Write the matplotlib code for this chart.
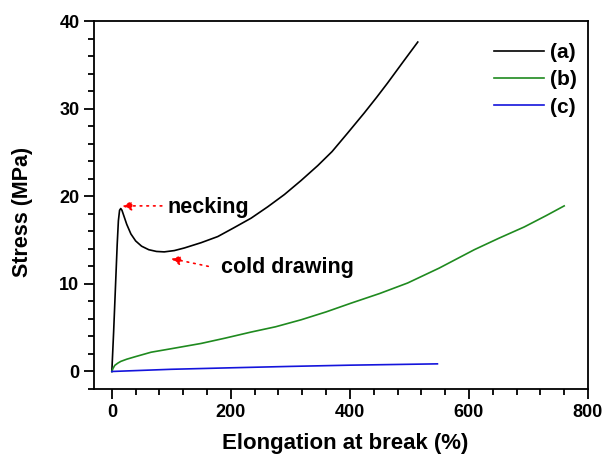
import matplotlib
matplotlib.use("Agg")
import matplotlib.pyplot as plt
from matplotlib.ticker import MultipleLocator

plt.rcParams['font.family'] = ['Liberation Sans', 'DejaVu Sans']
plt.rcParams['font.weight'] = 'bold'

# stress-strain curves, elongation (%) vs stress (MPa)
strain_a = [0, 3, 6, 9, 11, 13, 15, 17, 20, 25, 32, 40, 50, 62, 75, 88, 105, 122, 150, 178,
            205, 234, 262, 290, 318, 346, 370, 396, 424, 445, 463, 490, 514]
stress_a = [0, 4.5, 9.5, 14.5, 17.2, 18.4, 18.6, 18.4, 17.8, 16.8, 15.7, 14.9, 14.3, 13.9,
            13.7, 13.65, 13.8, 14.1, 14.7, 15.4, 16.4, 17.5, 18.8, 20.2, 21.8, 23.5, 25.1,
            27.2, 29.5, 31.3, 32.9, 35.4, 37.6]

strain_b = [0, 2, 5, 10, 15, 25, 40, 66, 100, 150, 190, 234, 275, 318, 360, 402, 450, 497,
            550, 609, 650, 693, 730, 760]
stress_b = [0, 0.35, 0.7, 0.95, 1.15, 1.4, 1.7, 2.2, 2.6, 3.2, 3.8, 4.5, 5.1, 5.9, 6.8, 7.8,
            8.9, 10.1, 11.8, 13.9, 15.2, 16.5, 17.8, 18.9]

strain_c = [0, 100, 200, 300, 400, 547]
stress_c = [0, 0.25, 0.42, 0.58, 0.72, 0.87]

labels = ['(a)', '(b)', '(c)']

fig = plt.figure(figsize=(6.04, 4.59), dpi=100)
ax = fig.add_axes([0.1556, 0.1525, 0.8179, 0.8017])

ax.plot(strain_a, stress_a, color='black', lw=1.2, label=labels[0])
ax.plot(strain_b, stress_b, color='#1f8a1f', lw=1.2, label=labels[1])
ax.plot(strain_c, stress_c, color='#1414dc', lw=1.2, label=labels[2])

ax.set_xlim(-30, 800)
ax.set_ylim(-2, 40)
ax.xaxis.set_major_locator(MultipleLocator(200))
ax.xaxis.set_minor_locator(MultipleLocator(40))
ax.yaxis.set_major_locator(MultipleLocator(10))
ax.yaxis.set_minor_locator(MultipleLocator(2))

ax.tick_params(which='both', direction='out', width=1.3, labelsize=13, top=False, right=False)
ax.tick_params(which='major', length=7)
ax.tick_params(which='minor', length=4)
for s in ax.spines.values():
    s.set_linewidth(1.3)

ax.set_xlabel('Elongation at break (%)', fontsize=16, fontweight='bold', labelpad=9, x=0.508)
ax.set_ylabel('Stress (MPa)', fontsize=15.5, fontweight='bold', labelpad=19, y=0.481)

arrow = dict(arrowstyle='-|>', color='red', lw=1.2, linestyle=(0, (1, 3)),
             mutation_scale=14, shrinkA=0, shrinkB=0)
ax.annotate('', xy=(17, 18.9), xytext=(84, 18.9), arrowprops=arrow)
ax.text(94, 18.7, 'necking', fontsize=15.5, fontweight='bold', va='center', ha='left')
ax.annotate('', xy=(99, 12.9), xytext=(162, 12.0), arrowprops=arrow)
ax.text(183, 11.9, 'cold drawing', fontsize=15.5, fontweight='bold', va='center', ha='left')

leg = ax.legend(loc='upper right', bbox_to_anchor=(0.978, 0.94), frameon=False,
                fontsize=15, handlelength=2.4, handletextpad=0.3, labelspacing=0.4,
                borderpad=0, borderaxespad=0)

fig.savefig('out.png', dpi=100)
